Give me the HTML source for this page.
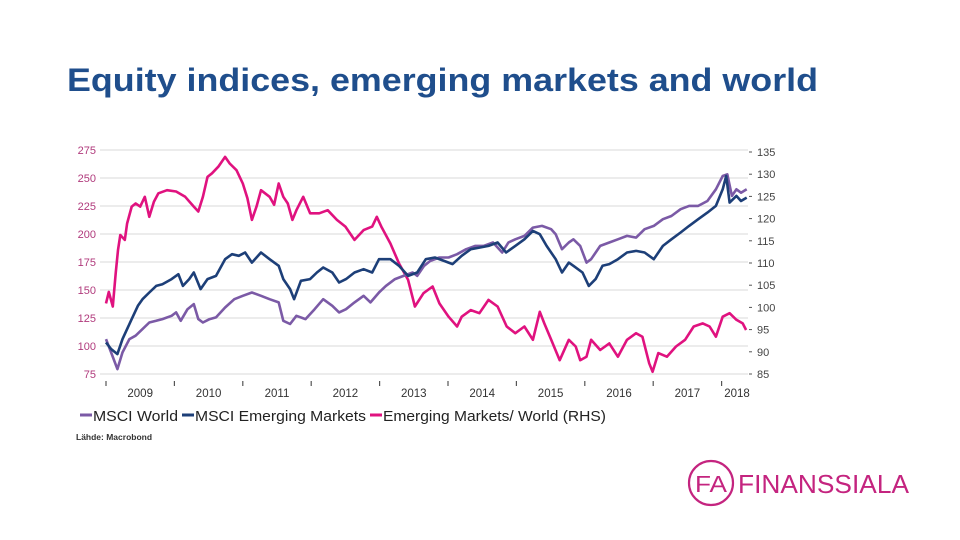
<!DOCTYPE html>
<html><head><meta charset="utf-8"><style>
html,body{margin:0;padding:0;background:#fff;}
svg{display:block;font-family:"Liberation Sans",Arial,sans-serif;}
</style></head><body>
<svg id="chart" width="960" height="540" viewBox="0 0 960 540">
<text x="67" y="91" font-size="32" font-weight="bold" fill="#1f4e8c" textLength="751" lengthAdjust="spacingAndGlyphs">Equity indices, emerging markets and world</text>
<g id="grid"></g>
<g id="leftAxis"></g>
<g id="rightAxis"></g>
<g id="xAxis"></g>
<g id="series"></g>
<g>
 <g><line x1="80" y1="415" x2="92" y2="415" stroke="#7b5aa6" stroke-width="3"/><text x="93" y="421" font-size="15" fill="#222" textLength="85" lengthAdjust="spacingAndGlyphs">MSCI World</text></g>
 <g><line x1="182" y1="415" x2="194" y2="415" stroke="#1d3f78" stroke-width="3"/><text x="195" y="421" font-size="15" fill="#222" textLength="171" lengthAdjust="spacingAndGlyphs">MSCI Emerging Markets</text></g>
 <g><line x1="370" y1="415" x2="382" y2="415" stroke="#e0127f" stroke-width="3"/><text x="383" y="421" font-size="15" fill="#222" textLength="223" lengthAdjust="spacingAndGlyphs">Emerging Markets/ World (RHS)</text></g>
</g>
<text x="76" y="440" font-size="8.5" font-weight="bold" fill="#333">Lähde: Macrobond</text>
<g>
 <circle cx="711" cy="483" r="22" fill="none" stroke="#c4247f" stroke-width="2.2"/>
 <text x="711" y="492" font-size="23" fill="#c4247f" text-anchor="middle" textLength="32" lengthAdjust="spacingAndGlyphs">FA</text>
 <text x="738" y="493" font-size="26" fill="#c4247f" textLength="171" lengthAdjust="spacingAndGlyphs">FINANSSIALA</text>
</g>
</svg>
<script>
const leftTicks=[75,100,125,150,175,200,225,250,275];
const rightTicks=[85,90,95,100,105,110,115,120,125,130,135];
const yearLabels=["2009","2010","2011","2012","2013","2014","2015","2016","2017","2018"];
const worldMonths=[0,0.9,2.0,2.9,4.1,5.2,6.4,7.6,8.8,9.9,11.5,12.3,13.1,14.3,15.4,16.2,17.0,18.2,19.3,20.9,22.5,24.0,25.6,27.2,28.7,30.3,31.1,32.3,33.4,35.0,36.6,38.1,39.7,40.9,42.1,43.6,45.2,46.4,47.9,49.1,50.7,52.2,53.8,54.6,55.8,56.9,58.5,60.1,61.6,63.2,64.8,66.3,67.9,69.5,70.6,71.8,73.4,74.9,76.5,78.1,78.9,80.0,81.2,82.0,83.2,84.3,85.1,86.7,88.3,89.8,91.4,93.0,94.5,96.1,97.7,99.2,100.8,102.3,103.9,105.5,107.0,108.2,109.0,109.8,110.6,111.4,112.4];
const worldValues=[106.2,94.3,79.4,94.3,106.2,109.2,115.1,121.0,122.5,124.0,127.0,130.0,122.5,132.9,137.4,124.0,121.0,124.0,125.5,134.4,141.8,144.8,147.8,144.8,141.8,138.9,122.5,119.6,127.0,124.0,132.9,141.8,135.9,130.0,132.9,138.9,144.8,138.9,147.8,153.7,159.7,162.6,165.6,162.6,171.6,176.0,179.0,179.0,182.0,186.4,189.4,189.4,192.4,183.5,192.4,195.3,198.3,205.7,207.2,204.3,199.8,186.4,192.4,195.3,189.4,174.5,177.5,189.4,192.4,195.3,198.3,196.8,204.3,207.2,213.2,216.1,222.1,225.1,225.1,229.5,239.9,251.8,253.3,234.0,239.9,236.9,239.9];
const emMonths=[0,0.9,2.0,2.9,3.7,4.5,5.6,6.4,7.6,8.8,9.9,11.5,12.7,13.5,14.6,15.4,16.6,17.8,19.3,20.9,22.1,23.3,24.4,25.6,27.2,28.7,30.3,31.1,32.3,33.0,34.2,35.8,37.0,38.1,39.7,40.9,42.1,43.6,45.2,46.7,47.9,49.9,51.4,53.0,54.6,56.1,57.7,59.3,60.8,62.4,64.0,65.5,67.1,68.7,70.2,71.8,73.4,74.9,76.1,77.3,78.9,80.0,81.2,82.0,83.6,84.7,85.9,87.1,88.3,89.8,91.4,93.0,94.5,96.1,97.7,99.2,100.8,102.3,103.9,105.5,107.0,108.2,108.8,109.4,110.6,111.4,112.4];
const emValues=[103.2,97.3,92.8,106.2,115.1,124.0,135.9,141.8,147.8,153.7,155.2,159.7,164.1,153.7,159.7,165.6,150.8,159.7,162.6,177.5,182.0,180.5,183.5,174.5,183.5,177.5,171.6,159.7,150.8,141.8,158.2,159.7,165.6,170.1,165.6,156.7,159.7,165.6,168.6,165.6,177.5,177.5,171.6,162.6,165.6,177.5,179.0,176.0,173.1,180.5,186.4,187.9,189.4,192.4,183.5,189.4,195.3,202.8,199.8,189.4,177.5,165.6,174.5,171.6,165.6,153.7,159.7,171.6,173.1,177.5,183.5,184.9,183.5,177.5,189.4,195.3,201.3,207.2,213.2,219.1,225.1,239.9,251.8,228.0,234.0,229.5,232.5];
const ratioMonths=[0,0.5,1.2,1.7,2.1,2.5,3.3,3.7,4.5,5.2,6.0,6.8,7.6,8.4,9.2,10.7,12.3,13.9,15.4,16.2,17.0,17.8,18.6,19.7,20.9,21.7,22.9,24.0,24.8,25.6,26.4,27.2,28.7,29.5,30.3,31.1,31.9,32.7,33.4,34.6,35.8,37.4,38.9,40.5,42.0,43.6,45.2,46.7,47.5,48.3,49.9,51.4,53.0,54.2,55.7,57.3,58.5,60.1,61.6,62.4,64.0,65.5,67.1,68.7,70.3,71.8,73.4,74.9,76.1,76.9,78.1,79.6,81.2,82.4,83.2,84.3,85.1,86.7,88.3,89.8,91.4,93.0,94.1,95.3,95.9,96.9,98.4,100.0,101.6,103.1,104.7,105.9,107.0,108.2,109.4,110.6,111.7,112.3];
const ratioValues=[100.9,103.5,100.2,107.7,112.9,116.3,115.2,118.9,122.7,123.4,122.7,124.9,120.4,123.8,125.7,126.4,126.1,124.9,122.7,121.6,124.9,129.4,130.2,131.7,133.9,132.4,130.9,127.9,124.6,119.7,122.7,126.4,124.9,123.1,127.9,124.9,123.4,119.7,121.9,124.9,121.2,121.2,121.9,119.7,118.2,115.2,117.4,118.2,120.4,118.2,114.4,109.9,106.2,100.2,103.2,104.7,100.9,97.9,95.7,97.9,99.4,98.7,101.7,100.2,95.7,94.2,95.7,92.7,99.0,96.4,92.7,88.1,92.7,91.2,88.1,88.9,92.7,90.4,91.9,88.9,92.7,94.2,93.4,87.4,85.5,89.7,88.9,91.2,92.7,95.7,96.4,95.7,93.4,97.9,98.7,97.2,96.4,94.9];

const NS="http://www.w3.org/2000/svg";
function mk(tag,attrs,parent){const e=document.createElementNS(NS,tag);for(const k in attrs)e.setAttribute(k,attrs[k]);parent.appendChild(e);return e;}
const xM=m=>106+m*(615.6/108);
const yL=v=>150+(275-v)*1.12;
const yR=v=>152+(135-v)*4.44;
const grid=document.getElementById('grid'),la=document.getElementById('leftAxis'),ra=document.getElementById('rightAxis'),xa=document.getElementById('xAxis'),sg=document.getElementById('series');
leftTicks.forEach(v=>{
 const g=mk('line',{x1:100,x2:748,y1:yL(v),y2:yL(v),stroke:'#d9d9d9','stroke-width':1},grid);
 
 
 const t=mk('text',{x:96,y:yL(v)+4,'font-size':11,fill:'#b03a7c','text-anchor':'end'},la);
 t.textContent=v;
 
 
});
rightTicks.forEach(v=>{
 mk('line',{x1:749,x2:752,y1:yR(v),y2:yR(v),stroke:'#555','stroke-width':1},ra);
 const t=mk('text',{x:757,y:yR(v)+4,'font-size':11,fill:'#444'},ra);
 t.textContent=v;
 
 
});
yearLabels.forEach((lab,i)=>{
 const tk=mk('line',{x1:xM(i*12),x2:xM(i*12),y1:381,y2:386,stroke:'#555','stroke-width':1.2},xa);
 
 
 let cx=xM(i*12+6); if(i===yearLabels.length-1) cx=737;
 const t=mk('text',{x:cx,y:397,'font-size':11.5,fill:'#333','text-anchor':'middle'},xa);
 t.textContent=lab;
 
 
});
function line(ms,vs,ys,color,name){
 const d=ms.map((m,i)=>(i?'L':'M')+xM(m).toFixed(1)+','+ys(vs[i]).toFixed(1)).join('');
 const p=mk('path',{d:d,fill:'none',stroke:color,'stroke-width':2.6,'stroke-linejoin':'round'},sg);
 
 
}
line(ratioMonths,ratioValues,yR,'#e0127f','line-em-world-ratio');
line(worldMonths,worldValues,yL,'#7b5aa6','line-msci-world');
line(emMonths,emValues,yL,'#1d3f78','line-msci-em');
</script>
</body></html>
